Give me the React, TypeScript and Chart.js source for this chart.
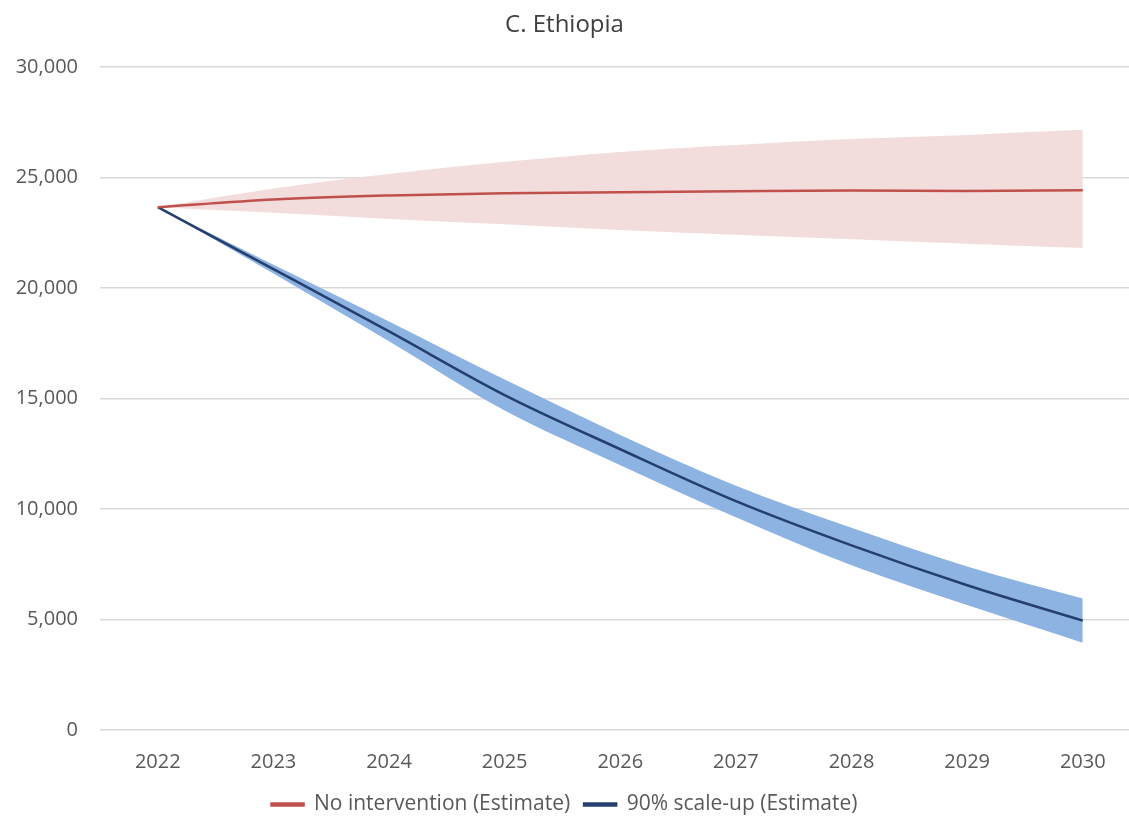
import React, { useEffect, useRef } from "react";
import { Chart, registerables } from "chart.js";

Chart.register(...registerables);

const years = [2022, 2023, 2024, 2025, 2026, 2027, 2028, 2029, 2030];
const noIntervention = [23650, 24000, 24180, 24280, 24330, 24370, 24400, 24380, 24420];
const noInterventionUpper = [23650, 24500, 25150, 25700, 26150, 26460, 26730, 26920, 27150];
const noInterventionLower = [23650, 23400, 23120, 22880, 22620, 22400, 22200, 22000, 21800];
const scaleUp = [23650, 20850, 18030, 15150, 12700, 10350, 8350, 6550, 4950];
const scaleUpUpper = [23650, 21050, 18480, 15850, 13350, 11050, 9150, 7400, 5950];
const scaleUpLower = [23650, 20650, 17580, 14450, 11980, 9620, 7450, 5650, 3950];
const yTicks = [0, 5000, 10000, 15000, 20000, 25000, 30000];

const pts = (arr: number[]) => arr.map((v, i) => ({ x: years[i], y: v }));

export default function App() {
  const ref = useRef<HTMLCanvasElement>(null);
  useEffect(() => {
    if (!ref.current) return;
    const font = "'Open Sans', 'Noto Sans', sans-serif";
    const common = { pointRadius: 0, cubicInterpolationMode: "monotone" };
    const chart = new Chart(ref.current, {
      type: "line",
      data: {
        datasets: [
          {
            ...common,
            label: "No intervention (Estimate)",
            data: pts(noIntervention),
            borderColor: "#C0504D",
            backgroundColor: "#C0504D",
            borderWidth: 2.5,
            fill: false,
            order: 0,
          },
          {
            ...common,
            label: "90% scale-up (Estimate)",
            data: pts(scaleUp),
            borderColor: "#243F6E",
            backgroundColor: "#3A5F9A",
            borderWidth: 2.5,
            fill: false,
            order: 0,
          },
          {
            ...common,
            label: "",
            data: pts(noInterventionUpper),
            borderWidth: 0,
            backgroundColor: "rgba(242,218,218,0.95)",
            fill: "+1",
            order: 2,
          },
          {
            ...common,
            label: "",
            data: pts(noInterventionLower),
            borderWidth: 0,
            backgroundColor: "rgba(0,0,0,0)",
            fill: false,
            order: 2,
          },
          {
            ...common,
            label: "",
            data: pts(scaleUpUpper),
            borderWidth: 0,
            backgroundColor: "#8DB3E2",
            fill: "+1",
            order: 1,
          },
          {
            ...common,
            label: "",
            data: pts(scaleUpLower),
            borderWidth: 0,
            backgroundColor: "rgba(0,0,0,0)",
            fill: false,
            order: 1,
          },
        ],
      },
      options: {
        animation: false,
        responsive: true,
        maintainAspectRatio: false,
        layout: { padding: { left: 0, right: 0, top: 6, bottom: 2 } },
        plugins: {
          title: {
            display: true,
            text: "C. Ethiopia",
            color: "#404040",
            font: { family: font, size: 24, weight: "normal" },
            padding: { top: 5, bottom: 27 },
          },
          legend: {
            position: "bottom",
            labels: {
              filter: (item: any) => !!item.text,
              color: "#595959",
              font: { family: font, size: 21, lineHeight: 1.15 },
              boxWidth: 32,
              boxHeight: 2,
              padding: 14,
            },
          },
          tooltip: { enabled: false },
        },
        scales: {
          x: {
            type: "linear",
            min: 2021.5,
            max: 2030.4,
            afterBuildTicks: (axis: any) => {
              axis.ticks = years.map((y) => ({ value: y }));
            },
            afterFit: (axis: any) => {
              axis.height = 50;
            },
            grid: { display: false },
            border: { display: false },
            ticks: {
              color: "#595959",
              font: { family: font, size: 20 },
              padding: 12,
              callback: (v: any) => String(v),
              maxRotation: 0,
            },
          },
          y: {
            min: 0,
            max: 30000,
            afterBuildTicks: (axis: any) => {
              axis.ticks = yTicks.map((v) => ({ value: v }));
            },
            afterFit: (axis: any) => {
              axis.width = 100;
            },
            grid: { color: "#D9D9D9", lineWidth: 1.5, drawTicks: false },
            border: { display: false },
            ticks: {
              color: "#595959",
              font: { family: font, size: 20 },
              padding: 22,
              callback: (v: any) => Number(v).toLocaleString("en-US"),
            },
          },
        },
      },
    } as any);
    return () => chart.destroy();
  }, []);
  return (
    <div style={{ position: "fixed", left: 0, top: 0, width: "100vw", height: "calc(100vh + 10px)", background: "#fff" }}>
      <canvas ref={ref} />
    </div>
  );
}
